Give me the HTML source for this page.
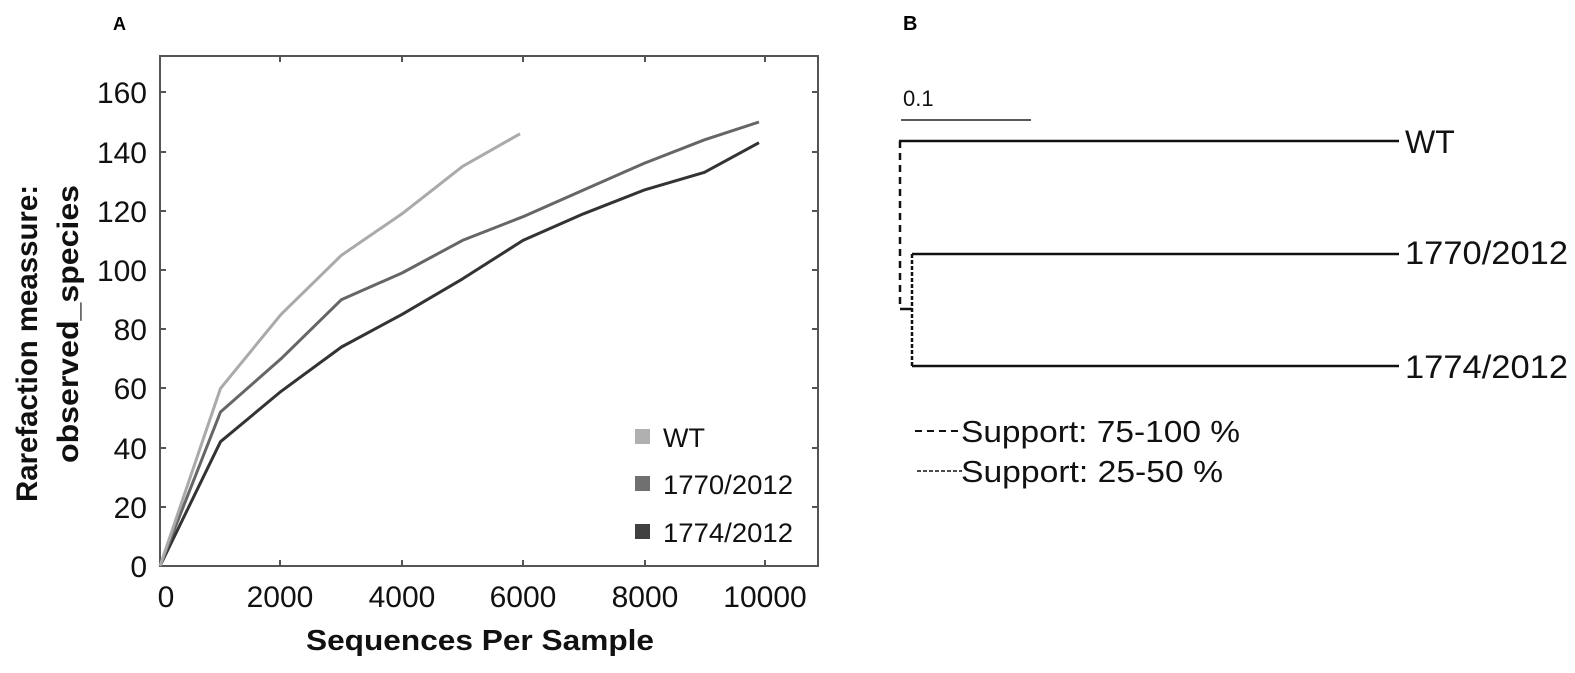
<!DOCTYPE html>
<html><head><meta charset="utf-8"><style>
html,body{margin:0;padding:0;background:#fff;}
svg{display:block;}
text{font-family:"Liberation Sans",sans-serif;}
</style></head><body>
<svg width="1575" height="673" viewBox="0 0 1575 673" xmlns="http://www.w3.org/2000/svg">
<rect width="1575" height="673" fill="#fff"/>
<!-- Panel A -->
<text x="113" y="30" font-size="18" font-weight="bold">A</text>
<rect x="160" y="56" width="658" height="510" fill="none" stroke="#555" stroke-width="2"/>
<g stroke="#555" stroke-width="2">
<line x1="280" y1="566" x2="280" y2="560"/><line x1="402" y1="566" x2="402" y2="560"/><line x1="523" y1="566" x2="523" y2="560"/><line x1="645" y1="566" x2="645" y2="560"/><line x1="765" y1="566" x2="765" y2="560"/>
<line x1="280" y1="56" x2="280" y2="62"/><line x1="402" y1="56" x2="402" y2="62"/><line x1="523" y1="56" x2="523" y2="62"/><line x1="645" y1="56" x2="645" y2="62"/><line x1="765" y1="56" x2="765" y2="62"/>
<line x1="160" y1="507" x2="166" y2="507"/><line x1="160" y1="448" x2="166" y2="448"/><line x1="160" y1="388" x2="166" y2="388"/><line x1="160" y1="329" x2="166" y2="329"/><line x1="160" y1="270" x2="166" y2="270"/><line x1="160" y1="211" x2="166" y2="211"/><line x1="160" y1="152" x2="166" y2="152"/><line x1="160" y1="92" x2="166" y2="92"/>
<line x1="818" y1="448" x2="812" y2="448"/><line x1="818" y1="507" x2="812" y2="507"/><line x1="818" y1="388" x2="812" y2="388"/><line x1="818" y1="329" x2="812" y2="329"/><line x1="818" y1="270" x2="812" y2="270"/><line x1="818" y1="211" x2="812" y2="211"/><line x1="818" y1="152" x2="812" y2="152"/><line x1="818" y1="92" x2="812" y2="92"/>
</g>
<g font-size="30" text-anchor="end" fill="#111">
<text x="147" y="577">0</text><text x="147" y="518">20</text><text x="147" y="459">40</text><text x="147" y="399">60</text><text x="147" y="340">80</text><text x="147" y="281">100</text><text x="147" y="222">120</text><text x="147" y="163">140</text><text x="147" y="103">160</text>
</g>
<g font-size="30" text-anchor="middle" fill="#111">
<text x="166" y="607">0</text><text x="280" y="607">2000</text><text x="402" y="607">4000</text><text x="523" y="607">6000</text><text x="645" y="607">8000</text><text x="765" y="607">10000</text>
</g>
<text x="306" y="650" font-size="29" font-weight="bold" textLength="348" lengthAdjust="spacingAndGlyphs" fill="#111">Sequences Per Sample</text>
<text transform="translate(37,502) rotate(-90)" font-size="30" font-weight="bold" textLength="317" lengthAdjust="spacingAndGlyphs" fill="#111">Rarefaction meassure:</text>
<text transform="translate(78,463) rotate(-90)" font-size="30" font-weight="bold" textLength="278" lengthAdjust="spacingAndGlyphs" fill="#111">observed_species</text>
<g fill="none" stroke-width="3" stroke-linejoin="round">
<polyline stroke="#333" points="160,566 220.5,441.7 281,391.4 341.5,347 402,314.4 462.5,278.9 523,240.4 583.5,213.8 644,190.1 704.5,172.3 759,142.7"/>
<polyline stroke="#666" points="160,566 220.5,412 281,358.8 341.5,299.6 402,273 462.5,240.4 523,216.7 583.5,190 644,163.4 704.5,139.8 759,122"/>
<polyline stroke="#aaa" points="160,566 220.5,388.4 281,314.4 341.5,255.2 402,213.8 462.5,166.4 520,133.8"/>
</g>
<rect x="635" y="429" width="15" height="15" fill="#b0b0b0"/>
<rect x="635" y="476" width="15" height="15" fill="#707070"/>
<rect x="635" y="524" width="15" height="15" fill="#404040"/>
<g font-size="27" fill="#111">
<text x="663" y="447">WT</text><text x="663" y="494" textLength="130" lengthAdjust="spacingAndGlyphs">1770/2012</text><text x="663" y="542" textLength="130" lengthAdjust="spacingAndGlyphs">1774/2012</text>
</g>
<!-- Panel B -->
<text x="903" y="30" font-size="20" font-weight="bold">B</text>
<text x="903" y="106" font-size="22" fill="#111">0.1</text>
<line x1="901" y1="120" x2="1031" y2="120" stroke="#222" stroke-width="1.5"/>
<g stroke="#111" stroke-width="2.5" fill="none">
<line x1="899" y1="141" x2="1399" y2="141"/>
<line x1="912" y1="254" x2="1399" y2="254"/>
<line x1="912" y1="366" x2="1399" y2="366"/>
<line x1="900" y1="141" x2="900" y2="309" stroke-dasharray="7,5"/>
<line x1="900" y1="309" x2="912" y2="309"/>
<line x1="912" y1="254" x2="912" y2="366" stroke-dasharray="4,2"/>
<line x1="915" y1="431" x2="960" y2="431" stroke-dasharray="7,5" stroke-width="2"/>
<line x1="917" y1="471" x2="962" y2="471" stroke-dasharray="4,2" stroke-width="1.5"/>
</g>
<g font-size="32" fill="#111">
<text x="1405" y="153">WT</text>
<text x="1405" y="264" textLength="163" lengthAdjust="spacingAndGlyphs">1770/2012</text>
<text x="1405" y="378" textLength="163" lengthAdjust="spacingAndGlyphs">1774/2012</text>
</g>
<g font-size="31" fill="#111">
<text x="961" y="442" textLength="279" lengthAdjust="spacingAndGlyphs">Support: 75-100 %</text>
<text x="961" y="482" textLength="262" lengthAdjust="spacingAndGlyphs">Support: 25-50 %</text>
</g>
</svg>
</body></html>
